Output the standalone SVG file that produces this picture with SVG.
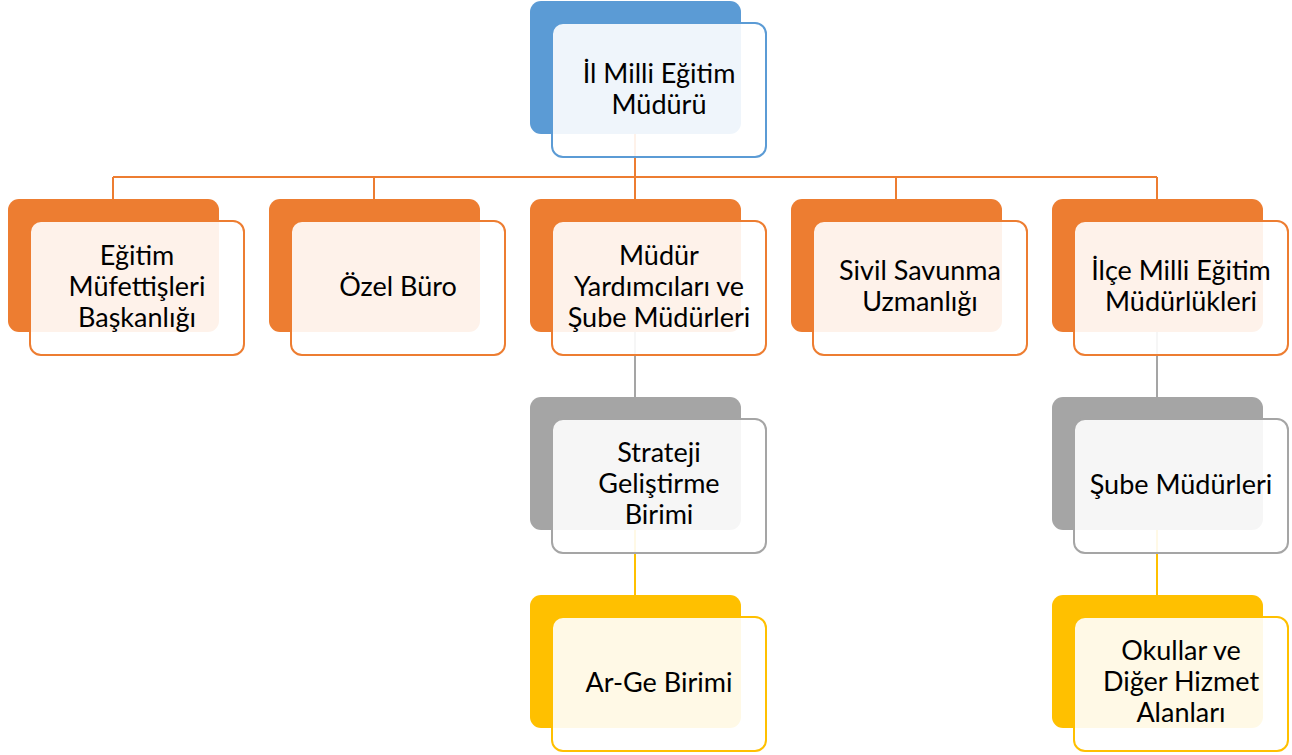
<svg xmlns="http://www.w3.org/2000/svg" width="1292" height="755" viewBox="0 0 1292 755">
<style>
text{font-family:Lato,"Open Sans","Liberation Sans",sans-serif;font-size:27px;fill:#000;text-anchor:middle}
.back{stroke:none}
.front{fill:#fff;fill-opacity:0.9;stroke-width:2}
.blue .back{fill:#5B9BD5}.blue .front{stroke:#5B9BD5}
.orange .back{fill:#ED7D31}.orange .front{stroke:#ED7D31}
.gray .back{fill:#A5A5A5}.gray .front{stroke:#A5A5A5}
.yellow .back{fill:#FFC000}.yellow .front{stroke:#FFC000}
.c{fill:none;stroke-width:2}
</style>
<rect width="1292" height="755" fill="#fff"/>
<g id="connectors">
<path class="c" stroke="#ED7D31" d="M635 134V177M113 177H1157M113 177V199M374 177V199M635 177V199M896 177V199M1157 177V199"/>
<path class="c" stroke="#A5A5A5" d="M635 332V397M1157 332V397"/>
<path class="c" stroke="#FFC000" d="M635 530V595M1157 530V595"/>
</g>
<g id="n0" class="blue">
<rect class="back" x="530" y="1" width="211" height="133" rx="11"/>
<rect class="front" x="552" y="23" width="214" height="134" rx="11"/>
<text x="659" y="83">İl Milli Eğitim</text><text x="659" y="114">Müdürü</text>
</g>
<g id="n1" class="orange">
<rect class="back" x="8" y="199" width="211" height="133" rx="11"/>
<rect class="front" x="30" y="221" width="214" height="134" rx="11"/>
<text x="137" y="265">Eğitim</text><text x="137" y="296">Müfettişleri</text><text x="137" y="327">Başkanlığı</text>
</g>
<g id="n2" class="orange">
<rect class="back" x="269" y="199" width="211" height="133" rx="11"/>
<rect class="front" x="291" y="221" width="214" height="134" rx="11"/>
<text x="398" y="296">Özel Büro</text>
</g>
<g id="n3" class="orange">
<rect class="back" x="530" y="199" width="211" height="133" rx="11"/>
<rect class="front" x="552" y="221" width="214" height="134" rx="11"/>
<text x="659" y="265">Müdür</text><text x="659" y="296">Yardımcıları ve</text><text x="659" y="327">Şube Müdürleri</text>
</g>
<g id="n4" class="orange">
<rect class="back" x="791" y="199" width="211" height="133" rx="11"/>
<rect class="front" x="813" y="221" width="214" height="134" rx="11"/>
<text x="920" y="280">Sivil Savunma</text><text x="920" y="311">Uzmanlığı</text>
</g>
<g id="n5" class="orange">
<rect class="back" x="1052" y="199" width="211" height="133" rx="11"/>
<rect class="front" x="1074" y="221" width="214" height="134" rx="11"/>
<text x="1181" y="280">İlçe Milli Eğitim</text><text x="1181" y="311">Müdürlükleri</text>
</g>
<g id="n6" class="gray">
<rect class="back" x="530" y="397" width="211" height="133" rx="11"/>
<rect class="front" x="552" y="419" width="214" height="134" rx="11"/>
<text x="659" y="462">Strateji</text><text x="659" y="493">Geliştirme</text><text x="659" y="524">Birimi</text>
</g>
<g id="n7" class="gray">
<rect class="back" x="1052" y="397" width="211" height="133" rx="11"/>
<rect class="front" x="1074" y="419" width="214" height="134" rx="11"/>
<text x="1181" y="494">Şube Müdürleri</text>
</g>
<g id="n8" class="yellow">
<rect class="back" x="530" y="595" width="211" height="133" rx="11"/>
<rect class="front" x="552" y="617" width="214" height="134" rx="11"/>
<text x="659" y="692">Ar-Ge Birimi</text>
</g>
<g id="n9" class="yellow">
<rect class="back" x="1052" y="595" width="211" height="133" rx="11"/>
<rect class="front" x="1074" y="617" width="214" height="134" rx="11"/>
<text x="1181" y="660">Okullar ve</text><text x="1181" y="691">Diğer Hizmet</text><text x="1181" y="722">Alanları</text>
</g>
</svg>
